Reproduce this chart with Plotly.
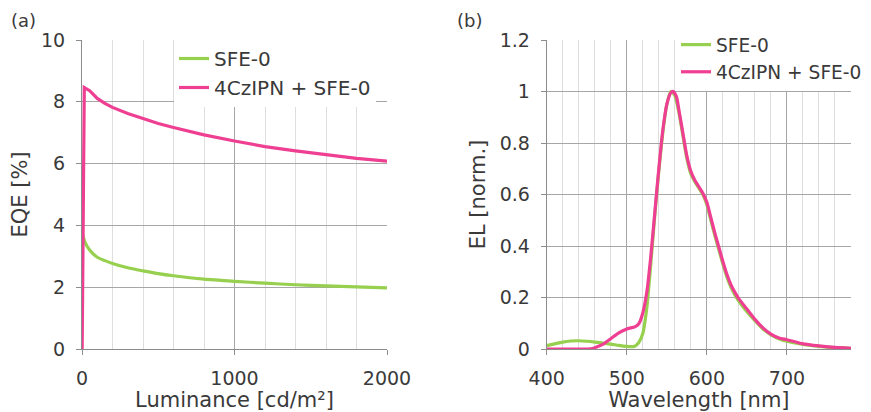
import plotly.graph_objects as go

# ---- Data: panel (a) EQE vs luminance ----
lum_sfe = [5, 20, 50, 100, 150, 200, 300, 400, 500, 600, 800, 1000, 1200, 1400, 1600, 1800, 2000]
eqe_sfe = [3.69, 3.45, 3.2, 2.97, 2.86, 2.77, 2.63, 2.53, 2.44, 2.37, 2.26, 2.19, 2.13, 2.08, 2.04, 2.01, 1.98]
lum_mix = [1, 15, 50, 100, 150, 200, 300, 400, 500, 600, 800, 1000, 1200, 1400, 1600, 1800, 2000]
eqe_mix = [0.0, 8.46, 8.36, 8.11, 7.95, 7.82, 7.62, 7.45, 7.30, 7.17, 6.93, 6.73, 6.55, 6.41, 6.28, 6.17, 6.08]

# ---- Data: panel (b) EL spectra ----
wl_sfe = [400, 410, 420, 430, 440, 450, 460, 470, 480, 490, 500, 505, 510, 515, 520, 525, 530, 535,
          540, 545, 550, 555, 560, 565, 570, 575, 580, 585, 590, 595, 600, 605, 610, 615, 620, 625,
          630, 635, 640, 650, 660, 670, 680, 690, 700, 720, 740, 760, 780]
el_sfe = [0.013, 0.02, 0.027, 0.031, 0.032, 0.03, 0.027, 0.023, 0.019, 0.014, 0.01, 0.009, 0.011,
          0.025, 0.06, 0.16, 0.33, 0.52, 0.69, 0.84, 0.95, 1.0, 0.985, 0.92, 0.83, 0.74, 0.68, 0.65,
          0.625, 0.6, 0.56, 0.5, 0.44, 0.385, 0.33, 0.28, 0.24, 0.21, 0.185, 0.145, 0.11, 0.078,
          0.055, 0.04, 0.03, 0.018, 0.01, 0.005, 0.003]
wl_mix = [400, 420, 440, 455, 460, 470, 480, 490, 500, 505, 510, 515, 520, 525, 530, 535, 540, 545,
          550, 555, 558, 562, 565, 570, 575, 580, 585, 590, 595, 600, 605, 610, 615, 620, 625, 630,
          635, 640, 650, 660, 670, 680, 690, 700, 720, 740, 760, 780]
el_mix = [0.0, 0.0, 0.0, 0.001, 0.005, 0.018, 0.04, 0.063, 0.078, 0.082, 0.086, 0.098, 0.14, 0.22,
          0.36, 0.53, 0.7, 0.85, 0.95, 0.995, 1.0, 0.98, 0.93, 0.84, 0.75, 0.69, 0.655, 0.63, 0.605,
          0.57, 0.51, 0.45, 0.395, 0.34, 0.29, 0.25, 0.22, 0.195, 0.155, 0.115, 0.082, 0.058, 0.043,
          0.036, 0.02, 0.012, 0.006, 0.003]

GREEN = "#96D04E"
PINK = "#EE3F92"
TXT = "#3a3a3a"
FONT = "DejaVu Sans"

fig = go.Figure()
fig.add_trace(go.Scatter(x=lum_sfe, y=eqe_sfe, mode="lines", name="SFE-0",
                         line=dict(color=GREEN, width=3.2, shape="spline", smoothing=0.6),
                         xaxis="x", yaxis="y", legend="legend"))
fig.add_trace(go.Scatter(x=lum_mix, y=eqe_mix, mode="lines", name="4CzIPN + SFE-0",
                         line=dict(color=PINK, width=3.2), xaxis="x", yaxis="y",
                         legend="legend"))
fig.add_trace(go.Scatter(x=wl_sfe, y=el_sfe, mode="lines", name="SFE-0",
                         line=dict(color=GREEN, width=3.2, shape="spline", smoothing=0.6),
                         xaxis="x2", yaxis="y2", legend="legend2"))
fig.add_trace(go.Scatter(x=wl_mix, y=el_mix, mode="lines", name="4CzIPN + SFE-0",
                         line=dict(color=PINK, width=3.2, shape="spline", smoothing=0.6),
                         xaxis="x2", yaxis="y2", legend="legend2"))

# page body has an 8px margin; figure occupies the rest of the 871x412 window
OFF = 8
W, H = 871 - OFF, 412 - OFF


def fx(px):
    return (px - OFF) / W


def fy(py):
    return 1 - (py - OFF) / H


yd = [fy(349), fy(40)]

axis_common = dict(showline=True, linecolor="#8c8c8c", linewidth=1, ticks="outside", ticklen=5,
                   tickcolor="#8c8c8c", tickfont=dict(family=FONT, size=19, color=TXT),
                   gridcolor="#a6a6a6", gridwidth=1, zeroline=False, ticklabelstandoff=7,
                   automargin=False)
title_font = dict(family=FONT, size=21, color=TXT)

fig.update_layout(
    width=W, height=H, margin=dict(l=0, r=0, t=0, b=0, autoexpand=False),
    paper_bgcolor="white", plot_bgcolor="white", font=dict(family=FONT, color=TXT),
    xaxis=dict(domain=[fx(82), fx(387)], range=[0, 2000], dtick=1000, anchor="y",
               minor=dict(dtick=200, showgrid=True, gridcolor="#dedede", ticks=""),
               title=dict(text="Luminance [cd/m²]", font=title_font, standoff=4),
               **axis_common),
    yaxis=dict(domain=yd, range=[0, 10], dtick=2, anchor="x",
               title=dict(text="EQE [%]", font=title_font, standoff=8),
               **axis_common),
    xaxis2=dict(domain=[fx(546.7), fx(851)], range=[400, 780], tick0=400, dtick=100, anchor="y2",
                minor=dict(dtick=20, showgrid=True, gridcolor="#dedede", ticks=""),
                title=dict(text="Wavelength [nm]", font=title_font, standoff=4),
                **axis_common),
    yaxis2=dict(domain=yd, range=[0, 1.2], dtick=0.2, anchor="x2",
                title=dict(text="EL [norm.]", font=title_font, standoff=8),
                **axis_common),
    legend=dict(x=fx(174), y=fy(39), xanchor="left", yanchor="top", bgcolor="white",
                font=dict(family=FONT, size=20, color=TXT), itemwidth=30),
    legend2=dict(x=fx(676), y=fy(26), xanchor="left", yanchor="top", bgcolor="white",
                 font=dict(family=FONT, size=18.6, color=TXT), itemwidth=30),
    annotations=[
        dict(text="(a)", x=fx(9), y=fy(20), xref="paper", yref="paper", xanchor="left",
             yanchor="middle", showarrow=False, font=dict(family=FONT, size=18, color=TXT)),
        dict(text="(b)", x=fx(455), y=fy(20), xref="paper", yref="paper", xanchor="left",
             yanchor="middle", showarrow=False, font=dict(family=FONT, size=18, color=TXT)),
    ],
)

fig.write_html("out.html")
